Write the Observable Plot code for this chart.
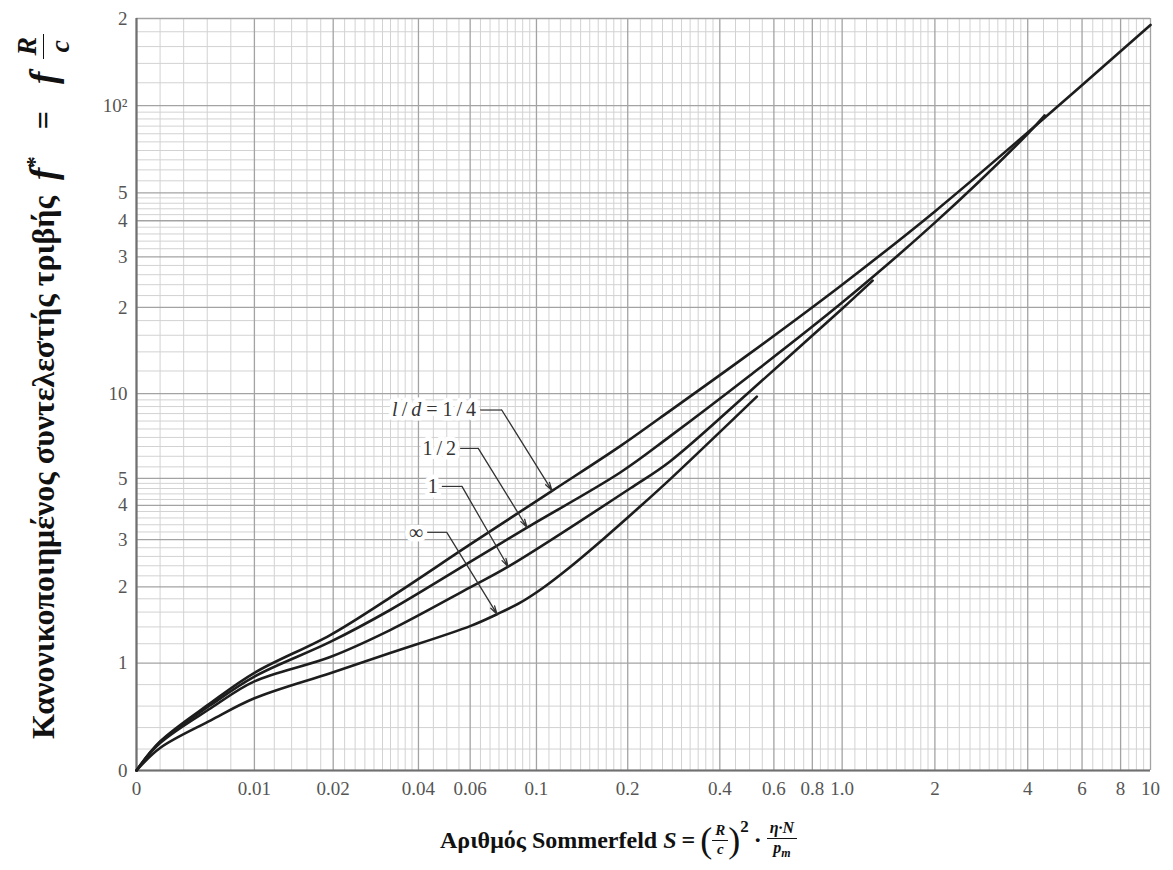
<!DOCTYPE html>
<html>
<head>
<meta charset="utf-8">
<script src="https://cdn.jsdelivr.net/npm/d3@7"></script>
<script src="https://cdn.jsdelivr.net/npm/@observablehq/plot@0.6"></script>
<style>
  html,body{margin:0;padding:0;background:#fff;}
  #wrap{position:relative;width:1173px;height:870px;overflow:hidden;background:#fff;}
  #chart{position:absolute;left:0;top:0;}
  .ttl{position:absolute;font-family:"Liberation Serif","Times New Roman",serif;font-weight:bold;color:#111;white-space:nowrap;display:flex;align-items:center;line-height:1;}
  .frac{display:inline-flex;flex-direction:column;align-items:center;line-height:1.05;}
  .frac .num{border-bottom:1.6px solid #111;padding:0 3px 1px;}
  .frac .den{padding:1px 3px 0;}
  .paren{font-weight:normal;font-size:1.5em;line-height:1;}
</style>
</head>
<body>
<div id="wrap">
  <div id="chart"></div>
  <div class="ttl" id="xtitle" style="left:440px;top:812px;height:56px;font-size:24px;">
    <span>Αριθμός Sommerfeld&nbsp;</span><i>S</i><span style="margin:0 5px;">=</span>
    <span class="paren">(</span>
    <span class="frac" style="font-size:15px;"><i class="num">R</i><i class="den">c</i></span>
    <span class="paren">)</span>
    <span style="font-size:17px;align-self:flex-start;margin-top:6px;">2</span>
    <span style="margin:0 5px;">·</span>
    <span class="frac" style="font-size:16px;"><i class="num">η·N</i><i class="den">p<sub style="font-size:0.75em">m</sub></i></span>
  </div>
  <div class="ttl" id="ytitle" style="left:15px;top:739px;height:56px;font-size:32px;transform:rotate(-90deg);transform-origin:0 0;">
    <span>Κανονικοποιημένος συντελεστής τριβής</span><i style="font-size:37px;margin-left:16px;">f</i><span style="font-size:23px;align-self:flex-start;margin-top:8px;">*</span><span style="margin:0 27px;">=</span><i style="font-size:37px;">f</i><span class="frac" style="font-size:28px;margin-left:13px;"><i class="num">R</i><i class="den">c</i></span>
  </div>
</div>
<script>
// ---------- data ----------
const S_quarter = [0, 0.002, 0.0063, 0.01, 0.0195, 0.0319, 0.06, 0.113, 0.189, 0.255, 0.5, 1.0, 2, 4, 10];
const F_quarter = [0, 0.27, 0.63, 0.91, 1.30, 1.82, 2.88, 4.52, 6.52, 8.2, 13.8, 24.0, 43.1, 80.8, 190];

const S_half = [0, 0.002, 0.0063, 0.01, 0.0195, 0.0319, 0.06, 0.093, 0.189, 0.275, 0.5, 1.0, 2.0, 4.0, 4.54];
const F_half = [0, 0.265, 0.61, 0.875, 1.22, 1.63, 2.48, 3.32, 5.25, 7.06, 11.55, 20.8, 39.4, 80.0, 92.6];

const S_one = [0, 0.002, 0.0063, 0.01, 0.0195, 0.0319, 0.06, 0.0805, 0.2035, 0.275, 0.5, 1.0, 1.256];
const F_one = [0, 0.255, 0.58, 0.83, 1.06, 1.36, 1.99, 2.38, 4.6, 5.75, 10.15, 19.8, 24.8];

const S_inf = [0, 0.002, 0.0063, 0.01, 0.0195, 0.0319, 0.06, 0.0739, 0.0883, 0.105, 0.129, 0.166, 0.2145, 0.275, 0.528];
const F_inf = [0, 0.21, 0.467, 0.673, 0.907, 1.10, 1.41, 1.57, 1.74, 1.98, 2.37, 3.01, 3.87, 4.96, 9.75];

const seriesNames = ["1/4", "1/2", "1", "inf"];

// curve labels with leaders (data units)
const labelTexts  = ["l/d = 1/4", "1\u2009/\u20092", "1", "\u221e"];
const labelS      = [0.0648, 0.0555, 0.0481, 0.0428];
const labelF      = [8.75, 6.40, 4.68, 3.19];
const cornerS     = [0.0766, 0.0639, 0.0563, 0.0500];
const tipS        = [0.1126, 0.0931, 0.0805, 0.0739];
const tipF        = [4.52, 3.32, 2.38, 1.57];

// axis ticks
const xTickValues = [0, 0.01, 0.02, 0.04, 0.06, 0.1, 0.2, 0.4, 0.6, 0.8, 1, 2, 4, 6, 8, 10];
const xTickLabels = ["0","0.01","0.02","0.04","0.06","0.1","0.2","0.4","0.6","0.8","1.0","2","4","6","8","10"];
const yTickValues = [0, 1, 2, 3, 4, 5, 10, 20, 30, 40, 50, 100, 200];
const yTickLabels = ["0","1","2","3","4","5","10","2","3","4","5","10\u00b2","2"];

// minor grid ranges [from, to, step]
const xMinorRanges = [[0.002,0.008,0.002],[0.012,0.038,0.002],[0.045,0.095,0.005],[0.11,0.19,0.01],[0.22,0.38,0.02],[0.45,0.95,0.05],[1.1,1.9,0.1],[2.2,3.8,0.2],[4.5,9.5,0.5]];
const yMinorRanges = [[0.2,0.8,0.2],[1.2,4.8,0.2],[5.5,9.5,0.5],[12,48,2],[55,95,5],[120,180,20]];

// ---------- chart's compound axis: linear near 0, logarithmic beyond ----------
const X_BREAK = 0.01, X_OFF = 0.0025, X_LIN = 0.382;
const Y_BREAK = 1, Y_OFF = 0.2, Y_LIN = 0.370;
const u = s => s <= X_BREAK ? X_LIN * (s / X_BREAK - 1) : Math.log10((s + X_OFF) / (X_BREAK + X_OFF));
const v = f => f <= Y_BREAK ? Y_LIN * (f / Y_BREAK - 1) : Math.log10((f + Y_OFF) / (Y_BREAK + Y_OFF));

function seq(a, b, step) {
  const out = [];
  for (let k = 0; ; k++) { const val = +(a + k * step).toFixed(5); if (val > b + 1e-9) break; out.push(val); }
  return out;
}
const notMajor = (majors) => val => !majors.some(m => Math.abs(m - val) < 1e-9);
const xMinor = xMinorRanges.flatMap(r => seq(...r)).filter(notMajor(xTickValues));
const yMinor = yMinorRanges.flatMap(r => seq(...r)).filter(notMajor(yTickValues));

const seriesData = [[S_quarter, F_quarter], [S_half, F_half], [S_one, F_one], [S_inf, F_inf]];
const rows = seriesData.flatMap(([S, F], k) => S.map((s, i) => ({ld: seriesNames[k], S: s, f: F[i]})));
const labels = labelTexts.map((t, i) => ({text: t, S0: labelS[i], f0: labelF[i], Sc: cornerS[i], St: tipS[i], ft: tipF[i]}));

const xLab = new Map(xTickValues.map((t, i) => [u(t), xTickLabels[i]]));
const yLab = new Map(yTickValues.map((t, i) => [v(t), yTickLabels[i]]));

const svg = Plot.plot({
  width: 1173, height: 870,
  marginLeft: 136, marginRight: 23, marginTop: 18, marginBottom: 100,
  style: {fontFamily: "'Liberation Serif', 'Times New Roman', serif", fontSize: "19px", color: "#555", background: "transparent", overflow: "visible"},
  x: {type: "linear", domain: [u(0), u(10)], ticks: xTickValues.map(u), tickFormat: d => xLab.get(d), tickSize: 0, tickPadding: 11, label: null},
  y: {type: "linear", domain: [v(0), v(200)], ticks: yTickValues.map(v), tickFormat: d => yLab.get(d), tickSize: 0, tickPadding: 9, label: null},
  marks: [
    Plot.ruleX(xMinor, {x: d => u(d), stroke: "#d2d2d2", strokeWidth: 1}),
    Plot.ruleY(yMinor, {y: d => v(d), stroke: "#d2d2d2", strokeWidth: 1}),
    Plot.ruleX(xTickValues, {x: d => u(d), stroke: "#a3a3a3", strokeWidth: 1.3}),
    Plot.ruleY(yTickValues, {y: d => v(d), stroke: "#a3a3a3", strokeWidth: 1.3}),
    Plot.ruleX([0], {x: d => u(d), stroke: "#707070", strokeWidth: 2.2}),
    Plot.ruleY([0], {y: d => v(d), stroke: "#707070", strokeWidth: 2.2}),
    Plot.line(rows, {x: d => u(d.S), y: d => v(d.f), z: "ld", curve: "catmull-rom", stroke: "#1d1d1d", strokeWidth: 2.6}),
    Plot.link(labels, {x1: d => u(d.S0), y1: d => v(d.f0), x2: d => u(d.Sc), y2: d => v(d.f0), stroke: "#333", strokeWidth: 1.2}),
    Plot.arrow(labels, {x1: d => u(d.Sc), y1: d => v(d.f0), x2: d => u(d.St), y2: d => v(d.ft), stroke: "#333", strokeWidth: 1.3, headLength: 10, headAngle: 30}),
    Plot.text(labels, {x: d => u(d.S0), y: d => v(d.f0), text: "text", textAnchor: "end", dx: -4, fontSize: 20, fill: "#333", stroke: "white", strokeWidth: 9})
  ]
});
document.getElementById("chart").appendChild(svg);

// italic l and d in the first curve label
d3.select(svg).selectAll("text").each(function () {
  if (this.textContent === "l/d = 1/4") {
    const t = d3.select(this);
    t.text(null);
    t.append("tspan").attr("font-style", "italic").text("l");
    t.append("tspan").text("\u2009/\u2009");
    t.append("tspan").attr("font-style", "italic").text("d");
    t.append("tspan").text(" = 1\u2009/\u20094");
  }
});
</script>
</body>
</html>
